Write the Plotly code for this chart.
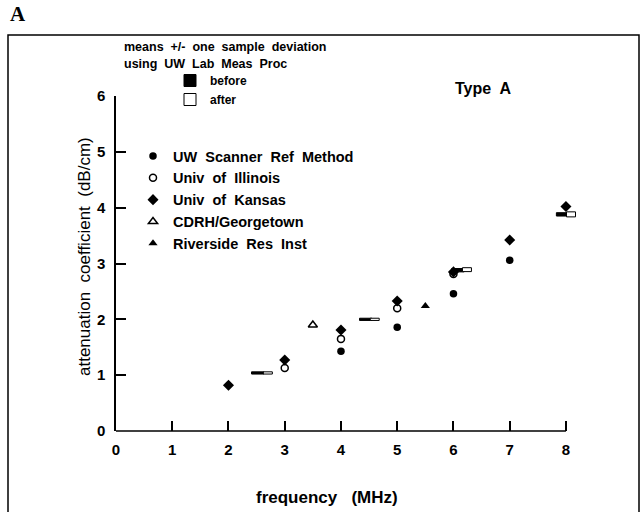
import plotly.graph_objects as go

# ---------------- data ----------------
x_ticks = [0, 1, 2, 3, 4, 5, 6, 7, 8]
y_ticks = [0, 1, 2, 3, 4, 5, 6]

uw_freq = [4, 5, 6, 7]
uw_vals = [1.43, 1.86, 2.46, 3.06]

ill_freq = [3, 4, 5, 6]
ill_vals = [1.13, 1.65, 2.20, 2.81]

kan_freq = [2, 3, 4, 5, 6, 7, 8]
kan_vals = [0.82, 1.27, 1.81, 2.33, 2.85, 3.42, 4.02]

cdrh_freq = [3.5]
cdrh_vals = [1.90]

rri_freq = [5.5]
rri_vals = [2.24]

before_freq = [2.52, 4.44, 6.08, 7.94]
before_mean = [1.04, 2.00, 2.88, 3.88]
before_sd = [0.02, 0.02, 0.03, 0.03]

after_freq = [2.70, 4.60, 6.24, 8.09]
after_mean = [1.04, 2.00, 2.89, 3.88]
after_sd = [0.02, 0.02, 0.035, 0.045]

X_MAX = 8      # end of the drawn frequency axis
X_VIEW = 8.25  # view range (room for the 8 MHz after-bar)

# ---------------- layout helpers (pixel -> paper) ----------------
W, H = 641, 512
L, T, B = 116, 96, 81
PX_PER_MHZ = 56.25
R = W - L - round(PX_PER_MHZ * X_VIEW)
PW, PH = W - L - R, H - T - B


def X(px):
    return (px - L) / PW


def Y(py):
    return (H - B - py) / PH


SANS = "Liberation Sans"
BOLD = dict(family=SANS, color="black", weight="bold")

fig = go.Figure()

# before / after bars (mean +/- one SD)
fig.add_trace(go.Bar(
    x=before_freq,
    base=[m - s for m, s in zip(before_mean, before_sd)],
    y=[2 * s for s in before_sd],
    width=0.22, cliponaxis=False,
    marker=dict(color="black", line=dict(color="black", width=1)),
    name="before", legend="legend2",
))
fig.add_trace(go.Bar(
    x=after_freq,
    base=[m - s for m, s in zip(after_mean, after_sd)],
    y=[2 * s for s in after_sd],
    width=0.16, cliponaxis=False,
    marker=dict(color="white", line=dict(color="black", width=1)),
    name="after", legend="legend2",
))

fig.add_trace(go.Scatter(
    x=uw_freq, y=uw_vals, mode="markers", name="UW  Scanner  Ref  Method",
    cliponaxis=False,
    marker=dict(symbol="circle", size=7.5, color="black"),
))
fig.add_trace(go.Scatter(
    x=ill_freq, y=ill_vals, mode="markers", name="Univ  of  Illinois",
    cliponaxis=False,
    marker=dict(symbol="circle-open", size=7, color="black", line=dict(width=1.5)),
))
fig.add_trace(go.Scatter(
    x=kan_freq, y=kan_vals, mode="markers", name="Univ  of  Kansas",
    cliponaxis=False,
    marker=dict(symbol="diamond", size=8.5, color="black"),
))
fig.add_trace(go.Scatter(
    x=cdrh_freq, y=cdrh_vals, mode="markers", name="CDRH/Georgetown",
    cliponaxis=False,
    marker=dict(symbol="triangle-up-open", size=8, color="black", line=dict(width=1.5)),
))
fig.add_trace(go.Scatter(
    x=rri_freq, y=rri_vals, mode="markers", name="Riverside  Res  Inst",
    cliponaxis=False,
    marker=dict(symbol="triangle-up", size=8, color="black"),
))

axis_common = dict(
    linecolor="black", linewidth=1.5,
    ticks="inside", ticklen=10, tickwidth=1.5, tickcolor="black",
    showgrid=False, zeroline=False,
    tickfont=dict(size=15, **BOLD),
)

fig.update_layout(
    width=W, height=H,
    margin=dict(l=L, r=R, t=T, b=B, pad=0),
    paper_bgcolor="white", plot_bgcolor="white",
    barmode="overlay",
    xaxis=dict(range=[0, X_VIEW], tickvals=x_ticks, ticklabelstandoff=8,
               showline=False, **axis_common),
    yaxis=dict(range=[0, 6], tickvals=y_ticks, ticklabelstandoff=6,
               showline=True, **axis_common),
    legend=dict(
        x=X(133), y=Y(140), xanchor="left", yanchor="top",
        font=dict(size=14.5, **BOLD), bgcolor="rgba(0,0,0,0)",
        tracegroupgap=0, itemwidth=30,
    ),
    legend2=dict(
        x=X(170), y=Y(66), xanchor="left", yanchor="top",
        font=dict(size=12, **BOLD), bgcolor="rgba(0,0,0,0)",
        tracegroupgap=0, itemwidth=30,
    ),
    showlegend=True,
)

# x axis line, drawn only from 0 to 8 MHz
fig.add_shape(type="line", xref="x", yref="paper", x0=0, x1=X_MAX, y0=0, y1=0,
              line=dict(color="black", width=1.5), layer="above")

# outer frame
fig.add_shape(type="rect", xref="paper", yref="paper",
              x0=X(8), x1=X(639), y0=Y(620), y1=Y(35),
              line=dict(color="black", width=1.5), fillcolor="rgba(0,0,0,0)",
              layer="below")

annos = [
    dict(text="A", x=X(8), y=Y(0), xanchor="left", yanchor="top",
         font=dict(family="Liberation Serif", size=21, color="black", weight="bold")),
    dict(text="means  +/-  one  sample  deviation", x=X(122), y=Y(47),
         xanchor="left", yanchor="middle", font=dict(size=12.5, **BOLD)),
    dict(text="using  UW  Lab  Meas  Proc", x=X(122), y=Y(64),
         xanchor="left", yanchor="middle", font=dict(size=12.5, **BOLD)),
    dict(text="Type  A", x=X(483), y=Y(89), xanchor="center", yanchor="middle",
         font=dict(size=16, **BOLD)),
    dict(text="frequency   (MHz)", x=X(327), y=Y(497), xanchor="center", yanchor="middle",
         font=dict(size=17, **BOLD)),
    dict(text="attenuation  coefficient  (dB/cm)", x=X(84), y=Y(257),
         xanchor="center", yanchor="middle", textangle=-90,
         font=dict(family=SANS, size=17, color="black")),
]
for a in annos:
    fig.add_annotation(xref="paper", yref="paper", showarrow=False, **a)

fig.write_html("out.html", config={"displayModeBar": False},
               post_script="document.body.style.margin='0px';")
